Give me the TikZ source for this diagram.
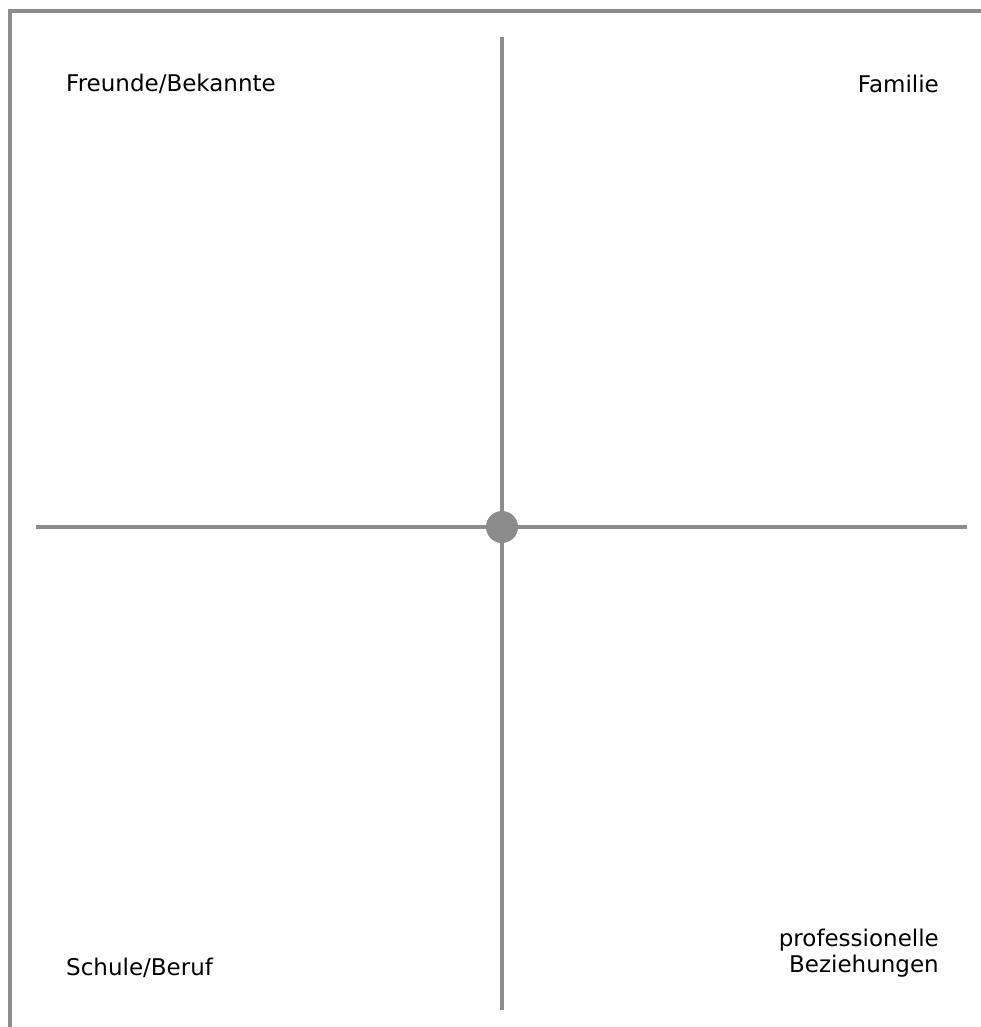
\documentclass[tikz,border=0pt]{standalone}
\usepackage{fontspec}
\setmainfont{DejaVu Sans}
\definecolor{linegray}{HTML}{8C8C8C}
\begin{document}
\begin{tikzpicture}[x=1pt,y=-1pt,
  axis/.style={draw=linegray,line width=3.2pt},
  lbl/.style={inner sep=0pt,font=\fontsize{23}{26}\selectfont,text=black}]
\useasboundingbox[fill=white] (0,0) rectangle (981,1027);
\draw[axis] (10,1040) -- (10,11) -- (1000,11);
\coordinate (L) at (36,527);
\coordinate (R) at (967,527);
\coordinate (T) at (502,37);
\coordinate (B) at (502,1010);
\node[circle,fill=linegray,minimum size=32pt,inner sep=0pt] (c) at (502,527) {};
\draw[axis] (L) -- (R);
\draw[axis] (T) -- (B);
\node[lbl,anchor=base west] (fb) at (66,92) {Freunde/Bekannte};
\node[lbl,anchor=base east] (fa) at (939,93) {Familie};
\node[lbl,anchor=base west] (sb) at (66,975) {Schule/Beruf};
\node[lbl,anchor=base east,align=right] (pb) at (939,972) {professionelle\\Beziehungen};
\end{tikzpicture}
\end{document}
